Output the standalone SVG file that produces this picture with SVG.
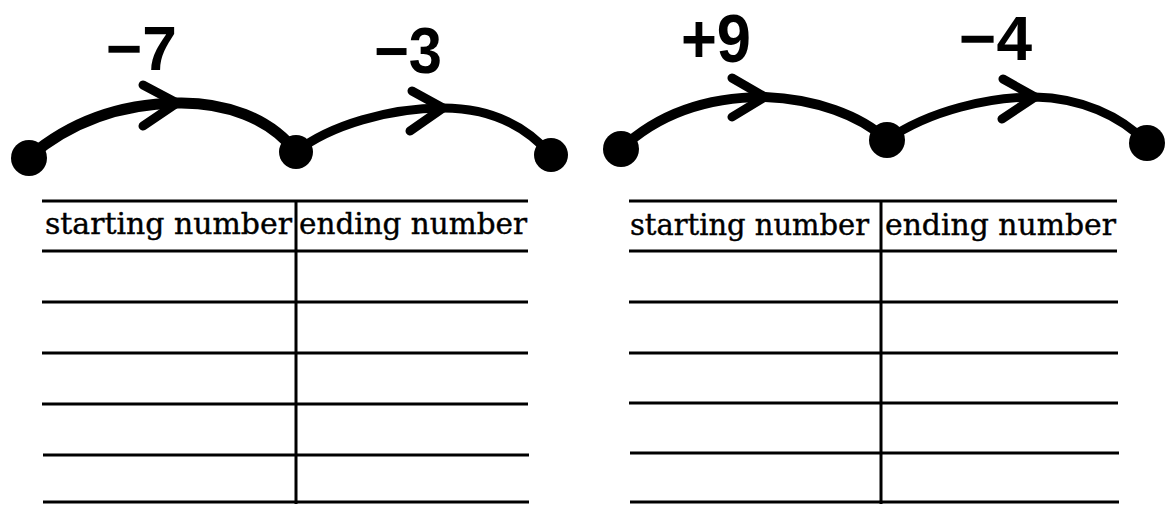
<svg xmlns="http://www.w3.org/2000/svg" width="1167" height="505" viewBox="0 0 1167 505">
<style>
.bg{fill:#fff}
.dot{fill:#000}
.arc{fill:none;stroke:#000;stroke-linecap:round;stroke-linejoin:round}
.head{fill:none;stroke:#000;stroke-width:9;stroke-linecap:round;stroke-linejoin:round}
.num{font-family:"Liberation Sans",Arial,sans-serif;font-weight:bold;fill:#000}
.rule{stroke:#000;stroke-width:3}
.hdr{font-family:"DejaVu Serif","Liberation Serif",serif;font-size:30px;fill:#000;stroke:#000;stroke-width:0.4}
</style>
<rect class="bg" x="0" y="0" width="1167" height="505"/>
<g id="connectors">
  <path class="arc" stroke-width="11" d="M29,157 C70,122 120,104 177,103 C225,102 270,118 296,152"/>
  <path class="head" d="M143,85 L177,103 L143,126"/>
  <path class="arc" stroke-width="9" d="M296,152 C330,125 390,108 443,108 C490,108 525,125 551,155"/>
  <path class="head" d="M412,91 L443,108 L410,131"/>
  <path class="arc" stroke-width="10" d="M621,149 C660,112 710,97 765,97 C815,99 860,115 887,140"/>
  <path class="head" d="M732,78 L765,97 L732,117"/>
  <path class="arc" stroke-width="9" d="M887,140 C930,110 990,97 1035,97 C1080,98 1120,115 1147,143"/>
  <path class="head" d="M1003,79 L1035,97 L1002,119"/>
</g>
<g id="node-dot-a1"><circle class="dot" cx="29" cy="158" r="18"/></g>
<g id="node-dot-a2"><circle class="dot" cx="296" cy="152" r="17"/></g>
<g id="node-dot-a3"><circle class="dot" cx="551" cy="155" r="17"/></g>
<g id="node-dot-b1"><circle class="dot" cx="621" cy="149" r="18"/></g>
<g id="node-dot-b2"><circle class="dot" cx="887" cy="140" r="18"/></g>
<g id="node-dot-b3"><circle class="dot" cx="1147" cy="143" r="18"/></g>
<g id="labels">
  <text class="num" x="106" y="70" font-size="63" textLength="71" lengthAdjust="spacingAndGlyphs">−7</text>
  <text class="num" x="374" y="73" font-size="64" textLength="68" lengthAdjust="spacingAndGlyphs">−3</text>
  <text class="num" x="681" y="62" font-size="68" textLength="70" lengthAdjust="spacingAndGlyphs">+9</text>
  <text class="num" x="959" y="60" font-size="63" textLength="73" lengthAdjust="spacingAndGlyphs">−4</text>
</g>
<g id="table-left">
  <line class="rule" x1="42" y1="201" x2="528" y2="201"/>
  <line class="rule" x1="42" y1="251" x2="528" y2="251"/>
  <line class="rule" x1="42" y1="302" x2="528" y2="302"/>
  <line class="rule" x1="42" y1="353" x2="528" y2="353"/>
  <line class="rule" x1="42" y1="404" x2="528" y2="404"/>
  <line class="rule" x1="43" y1="455" x2="529" y2="455"/>
  <line class="rule" x1="43" y1="502" x2="529" y2="502"/>
  <line class="rule" x1="296" y1="201" x2="296" y2="504"/>
  <text class="hdr" x="45" y="234" textLength="247" lengthAdjust="spacingAndGlyphs">starting number</text>
  <text class="hdr" x="299" y="234" textLength="228" lengthAdjust="spacingAndGlyphs">ending number</text>
</g>
<g id="table-right">
  <line class="rule" x1="629" y1="201" x2="1117" y2="201"/>
  <line class="rule" x1="629" y1="251" x2="1117" y2="251"/>
  <line class="rule" x1="629" y1="302" x2="1118" y2="302"/>
  <line class="rule" x1="629" y1="353" x2="1118" y2="353"/>
  <line class="rule" x1="629" y1="403" x2="1118" y2="403"/>
  <line class="rule" x1="630" y1="453" x2="1119" y2="453"/>
  <line class="rule" x1="630" y1="502" x2="1119" y2="502"/>
  <line class="rule" x1="881" y1="201" x2="881" y2="504"/>
  <text class="hdr" x="630" y="235" textLength="239" lengthAdjust="spacingAndGlyphs">starting number</text>
  <text class="hdr" x="885" y="235" textLength="231" lengthAdjust="spacingAndGlyphs">ending number</text>
</g>
</svg>
